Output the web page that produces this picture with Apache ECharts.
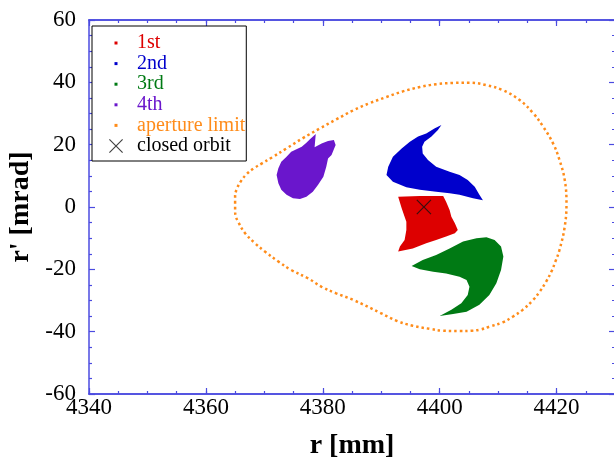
<!DOCTYPE html>
<html>
<head>
<meta charset="utf-8">
<script src="https://cdn.jsdelivr.net/npm/echarts@6/dist/echarts.min.js"></script>
<style>
html,body{margin:0;padding:0;background:#fff;}
#chart{width:614px;height:461px;}
</style>
</head>
<body>
<div id="chart"></div>
<script>
// ---- axis settings ----
const xRange = [4340, 4430];
const yRange = [-60, 60];
const xMajor = 20, xMinor = 5, yMajor = 20;
const xTitle = 'r [mm]';
const yTitle = "r' [mrad]";

// ---- series names & colours ----
const seriesNames = ['1st', '2nd', '3rd', '4th', 'aperture limit', 'closed orbit'];
const seriesColors = ['#dd0000', '#0000cc', '#007a14', '#6a16cc', '#ff8c1a', '#111111'];

// ---- region outlines [r, r'] ----
const first = [
  [4392.9,3.3],[4396.6,3.5],[4400.6,3.5],[4401.1,1.7],[4401.7,-1.0],[4402.0,-3.1],
  [4402.6,-5.2],[4403.1,-7.4],[4402.6,-8.4],[4401.1,-9.5],[4399.4,-10.6],[4397.7,-11.6],
  [4395.4,-13.3],[4392.9,-14.3],[4393.2,-12.7],[4394.0,-10.6],[4394.3,-7.4],[4394.3,-4.7],
  [4394.0,-3.1],[4393.5,-0.4]
];
const second = [
  [4400.3,26.3],[4399.7,24.7],[4398.6,22.6],[4397.4,20.9],[4397.0,19.3],[4397.1,17.2],
  [4398.0,15.1],[4399.4,12.9],[4401.7,11.3],[4403.4,10.3],[4404.8,8.7],[4406.0,6.5],
  [4406.8,3.9],[4407.4,2.2],[4405.7,2.8],[4403.4,3.9],[4401.7,4.4],[4399.4,4.9],
  [4396.6,5.5],[4394.3,6.3],[4392.0,8.1],[4390.9,10.3],[4391.2,12.9],[4392.0,16.1],
  [4393.5,18.8],[4394.9,20.9],[4396.3,22.6],[4397.7,23.6],[4399.1,25.2]
];
const third = [
  [4395.2,-18.9],[4397.1,-17.0],[4399.4,-15.4],[4401.7,-13.3],[4404.0,-11.1],[4406.3,-10.0],
  [4408.0,-9.7],[4409.4,-10.6],[4410.5,-12.7],[4410.9,-15.9],[4410.5,-20.2],[4409.7,-24.5],
  [4408.5,-28.2],[4406.8,-31.4],[4404.6,-33.6],[4402.3,-34.3],[4400.0,-35.0],[4402.0,-33.0],
  [4403.7,-30.9],[4404.8,-28.2],[4405.1,-25.6],[4404.6,-23.4],[4403.4,-22.4],[4401.1,-21.3],
  [4398.9,-20.8],[4396.6,-20.0]
];
const fourth = [
  [4378.8,23.4],[4378.6,19.2],[4379.8,20.4],[4380.9,21.2],[4381.9,21.5],[4382.2,19.9],
  [4381.5,16.7],[4380.9,15.6],[4380.6,12.9],[4380.1,9.7],[4379.2,7.1],[4378.3,4.9],
  [4377.2,3.3],[4376.1,2.6],[4374.9,2.8],[4373.8,3.9],[4372.9,5.5],[4372.4,7.6],
  [4372.1,10.3],[4372.4,12.4],[4372.9,14.5],[4373.8,16.1],[4374.6,17.7],[4375.5,18.5],
  [4376.4,19.3],[4377.2,20.6],[4377.8,21.7]
];
const aperture = [
  [4365.0,1.2],[4365.0,3.5],[4365.3,5.8],[4366.0,8.3],[4367.0,10.6],[4368.2,12.4],
  [4369.6,14.0],[4371.3,15.9],[4373.8,18.8],[4376.6,22.1],[4379.5,25.2],[4382.3,28.1],
  [4385.2,31.0],[4388.0,33.3],[4390.9,35.3],[4393.7,37.1],[4396.6,38.5],[4399.4,39.4],
  [4402.3,39.8],[4405.1,39.9],[4408.0,39.1],[4410.8,37.5],[4413.7,34.3],[4416.0,30.1],
  [4417.7,25.8],[4419.4,20.4],[4420.5,15.1],[4421.4,8.7],[4421.7,1.2],[4421.4,-6.3],
  [4420.5,-13.8],[4419.8,-17.5],[4419.1,-20.8],[4418.2,-24.0],[4417.1,-27.2],[4416.0,-29.8],
  [4414.2,-33.0],[4412.5,-35.2],[4410.8,-37.0],[4408.5,-38.4],[4407.0,-39.3],[4405.5,-39.7],
  [4403.4,-39.8],[4400.6,-39.7],[4398.3,-39.1],[4395.4,-38.1],[4392.6,-36.5],[4390.0,-34.1],
  [4385.2,-29.8],[4382.3,-27.7],[4379.8,-25.6],[4377.5,-22.9],[4374.6,-20.2],[4372.4,-17.5],
  [4370.1,-14.3],[4368.4,-11.6],[4366.7,-8.4],[4365.5,-4.7],[4365.1,-2.9],[4365.0,-1.0],
  [4365.0,1.2]
];
const closedOrbit = [[4397.3, 0.0]];

// ---- styling ----
const axisBlue = '#4b4be0';
const serif = 'Liberation Serif';
const crossPath = 'M0,0.8L0.8,0L7,6.2L13.2,0L14,0.8L7.8,7L14,13.2L13.2,14L7,7.8L0.8,14L0,13.2L6.2,7Z';
const legendSquare = 'path://M0,0M23,14M5.5,5.5h3v3h-3z';
const legendCross = 'path://M0,0M23,14' + crossPath;

function polygonSeries(name, pts, color) {
  return {
    name: name, type: 'custom', xAxisIndex: 0, yAxisIndex: 0,
    data: pts, itemStyle: { color: color }, clip: true, z: 3,
    renderItem: function (params, api) {
      if (params.dataIndex !== 0) return null;
      const points = pts.map(function (p) { return api.coord(p); });
      return { type: 'polygon', shape: { points: points }, style: { fill: color } };
    }
  };
}

function xAxisDef(pos, interval, tickLen, main) {
  return {
    type: 'value', position: pos, min: xRange[0], max: xRange[1], interval: interval,
    axisLine: { show: true, onZero: false, lineStyle: { color: axisBlue, width: 1.5 } },
    axisTick: { show: true, inside: true, length: tickLen, lineStyle: { color: axisBlue, width: 1.2 } },
    axisLabel: main ? {
      show: true, color: '#000', fontFamily: serif, fontSize: 23, margin: 2, showMaxLabel: false,
      formatter: function (v) { return String(v); }
    } : { show: false },
    splitLine: { show: false },
    name: main ? xTitle : '', nameLocation: 'middle', nameGap: 38,
    nameTextStyle: { fontFamily: serif, fontSize: 28, fontWeight: 'bold', color: '#000' }
  };
}
function yAxisDef(pos, main) {
  return {
    type: 'value', position: pos, min: yRange[0], max: yRange[1], interval: yMajor,
    axisLine: { show: true, onZero: false, lineStyle: { color: axisBlue, width: 1.5 } },
    axisTick: { show: true, inside: true, length: 6, lineStyle: { color: axisBlue, width: 1.2 } },
    minorTick: { show: true, splitNumber: 4, length: 3, lineStyle: { color: axisBlue, width: 1.2 } },
    axisLabel: main ? { show: true, color: '#000', fontFamily: serif, fontSize: 23, margin: 13, padding: [0, 0, 6, 0] } : { show: false },
    splitLine: { show: false }, minorSplitLine: { show: false },
    name: main ? yTitle : '', nameLocation: 'middle', nameGap: 52, nameRotate: 90,
    nameTextStyle: { fontFamily: serif, fontSize: 28, fontWeight: 'bold', color: '#000' }
  };
}

const chart = echarts.init(document.getElementById('chart'), null, { renderer: 'canvas' });
chart.setOption({
  animation: false,
  backgroundColor: '#fff',
  grid: { left: 89, top: 20, width: 526, height: 374, containLabel: false, outerBoundsMode: 'none' },
  xAxis: [
    xAxisDef('bottom', xMajor, 6, true),
    xAxisDef('bottom', xMinor, 3, false),
    xAxisDef('top', xMajor, 6, false),
    xAxisDef('top', xMinor, 3, false)
  ],
  yAxis: [yAxisDef('left', true), yAxisDef('right', false)],
  legend: {
    orient: 'vertical', left: 92, top: 26,
    padding: [7, 1, 5, 17], itemGap: 0.6,
    itemWidth: 23, itemHeight: 14,
    borderColor: '#000', borderWidth: 1, backgroundColor: '#fff',
    itemStyle: { borderWidth: 0 },
    textStyle: { fontFamily: serif, fontSize: 20, lineHeight: 20 },
    selectedMode: false,
    data: seriesNames.map(function (n, i) {
      return {
        name: n,
        icon: i === 5 ? legendCross : legendSquare,
        itemStyle: { color: seriesColors[i], borderWidth: 0 },
        textStyle: { color: i === 5 ? '#000' : seriesColors[i] }
      };
    })
  },
  series: [
    polygonSeries(seriesNames[0], first, seriesColors[0]),
    polygonSeries(seriesNames[1], second, seriesColors[1]),
    polygonSeries(seriesNames[2], third, seriesColors[2]),
    polygonSeries(seriesNames[3], fourth, seriesColors[3]),
    {
      name: seriesNames[4], type: 'line', xAxisIndex: 0, yAxisIndex: 0,
      data: aperture, showSymbol: false, smooth: 0.4, color: seriesColors[4],
      lineStyle: { color: seriesColors[4], width: 2.5, type: [2.5, 3], cap: 'butt' },
      z: 2
    },
    {
      name: seriesNames[5], type: 'scatter', xAxisIndex: 0, yAxisIndex: 0,
      data: closedOrbit, symbol: 'path://' + crossPath, symbolSize: 15,
      itemStyle: { color: seriesColors[5] }, z: 5
    }
  ]
});
</script>
</body>
</html>
